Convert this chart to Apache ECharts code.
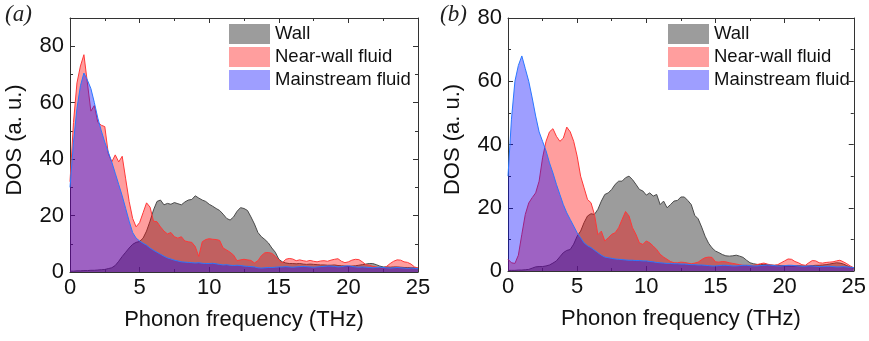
<!DOCTYPE html>
<html>
<head>
<meta charset="utf-8">
<script src="https://cdn.jsdelivr.net/npm/echarts@6/dist/echarts.min.js"></script>
<style>
  html, body { margin: 0; padding: 0; background: #fff; }
  #chart { width: 869px; height: 341px; }
</style>
</head>
<body>
<div id="chart"></div>
<script>
// Phonon frequency grid (THz)
const freq = [
  0, 0.25, 0.5, 0.75, 1, 1.25, 1.5, 1.75, 2, 2.25,
  2.5, 2.75, 3, 3.25, 3.5, 3.75, 4, 4.25, 4.5, 4.75,
  5, 5.25, 5.5, 5.75, 6, 6.25, 6.5, 6.75, 7, 7.25,
  7.5, 7.75, 8, 8.25, 8.5, 8.75, 9, 9.25, 9.5, 9.75,
  10, 10.25, 10.5, 10.75, 11, 11.25, 11.5, 11.75, 12, 12.25,
  12.5, 12.75, 13, 13.25, 13.5, 13.75, 14, 14.25, 14.5, 14.75,
  15, 15.25, 15.5, 15.75, 16, 16.25, 16.5, 16.75, 17, 17.25,
  17.5, 17.75, 18, 18.25, 18.5, 18.75, 19, 19.25, 19.5, 19.75,
  20, 20.25, 20.5, 20.75, 21, 21.25, 21.5, 21.75, 22, 22.25,
  22.5, 22.75, 23, 23.25, 23.5, 23.75, 24, 24.25, 24.5, 24.75,
  25
];

// Panel (a) densities of states
const wallA = [
  0.3, 0.3, 0.4, 0.4, 0.5, 0.5, 0.6, 0.6, 0.7, 0.8,
  0.9, 1.2, 1.5, 2.3, 3.8, 5.5, 7, 8.5, 9.8, 10.5,
  10.8, 12, 14.5, 18, 22, 25, 25.5, 23.8, 24.3, 24,
  24.6, 24.2, 23.8, 24.8, 25.5, 25.7, 27, 26.2, 25.5, 25,
  24, 23.3, 22.5, 21.8, 20.5, 19, 18.4, 19.5, 21.5, 22.8,
  22.5, 21.8, 19.5, 17, 14, 12.5, 11.5, 10.3, 8.5, 7,
  4.5, 3.6, 3.2, 3.0, 3.0, 2.9, 3.0, 2.8, 2.7, 2.8,
  2.7, 2.6, 2.5, 2.5, 2.4, 2.4, 2.5, 2.3, 2.2, 2.1,
  2.0, 2.1, 2.2, 2.4, 2.6, 2.8, 3.0, 3.0, 2.6, 2.1,
  1.8, 1.8, 1.7, 1.8, 1.8, 1.7, 1.6, 1.6, 1.5, 1.5,
  1.4
];
const nearA = [
  32, 53, 67, 73, 77, 67, 57, 59, 53, 52,
  51.5, 42, 39, 41.5, 39, 41, 33, 25, 19, 16,
  17.5, 21, 24.5, 23, 18, 17.8, 16, 14.5, 13.5, 14,
  12.5, 12, 12.5, 11, 10.7, 10.5, 9, 5.5, 10.7, 11.5,
  11.8, 11.6, 11.5, 11.2, 8.5, 7.8, 7.0, 6.0, 4.0, 4.3,
  4.5, 4.3, 4.1, 3.2, 4.0, 5.8, 6.8, 6.9, 6.6, 5.6,
  4.2, 3.2, 4.5, 4.8, 4.6, 4.0, 4.3, 4.0, 3.8, 4.1,
  3.8, 3.6, 3.9, 4.0, 3.8, 4.2, 4.5, 4.7, 3.8, 3.3,
  3.6, 4.2, 4.5, 4.4, 3.6, 2.6, 2.4, 2.0, 1.8, 1.5,
  1.4, 2.0, 3.0, 3.8, 4.3, 4.2, 3.6, 3.4, 2.8, 1.8,
  1.4
];
const mainA = [
  30, 46, 58, 66, 70.5, 68, 65, 60, 54.5, 50,
  46, 42.5, 39, 35, 31, 27, 22.5, 18, 14, 12,
  11, 10.2, 9.5, 8.5, 7.7, 7, 6.3, 5.6, 5, 4.6,
  4.2, 3.9, 3.6, 3.5, 3.4, 3.3, 3.2, 3.3, 3.1, 3.0,
  3.0, 3.1, 2.9, 2.7, 2.5, 2.6, 2.4, 2.3, 2.4, 2.3,
  2.1, 2.0, 1.9, 1.8, 1.5, 1.4, 1.5, 1.6, 1.6, 1.7,
  1.8, 1.8, 1.9, 1.8, 1.7, 1.8, 1.9, 2.0, 1.9, 1.8,
  1.7, 1.8, 1.9, 2.0, 2.1, 2.1, 2.0, 1.8, 1.9, 2.1,
  2.2, 2.0, 1.8, 1.7, 1.8, 1.7, 1.6, 1.5, 1.6, 1.7,
  1.6, 1.5, 1.4, 1.5, 1.6, 1.5, 1.4, 1.3, 1.4, 1.3,
  1.2
];

// Panel (b) densities of states
const wallB = [
  0.2, 0.2, 0.2, 0.3, 0.3, 0.4, 0.5, 0.9, 1.3, 1.4,
  1.4, 1.6, 1.9, 2.5, 3.2, 4.5, 5.8, 6.5, 6.8, 8.5,
  11, 12.6, 15.3, 17.4, 18.1, 17.9, 19.5, 22.1, 24.2, 24.7,
  25.8, 27.4, 28.4, 28.4, 29.5, 30, 28.9, 27.4, 25.8, 25.3,
  24, 24.7, 23.7, 24.2, 21, 22.1, 20, 21, 22.1, 22.3,
  23.4, 23.4, 22.3, 21, 17.6, 16.5, 13.9, 11, 8.8, 7.3,
  6.3, 5.8, 5.2, 4.8, 4.7, 4.8, 5.0, 4.7, 4.3, 3.4,
  2.6, 2.3, 2.1, 2.0, 2.1, 2.0, 1.9, 1.8, 1.8, 1.7,
  1.6, 1.6, 1.5, 1.6, 1.7, 1.6, 1.6, 1.6, 1.7, 1.8,
  1.8, 1.9, 2.0, 2.2, 2.4, 2.6, 2.5, 2.2, 1.7, 1.2,
  0.9
];
const nearB = [
  3.7, 2.6, 2.4, 5, 11.6, 17.9, 21.5, 23.2, 24.7, 28.4,
  35.8, 41, 44, 45, 42.6, 41, 42, 45.5, 44, 41,
  36.3, 30, 26.3, 22.6, 21.6, 17.9, 11.5, 12.6, 9.5, 10.5,
  11.6, 12.1, 13.7, 16.3, 18.8, 17.4, 13.7, 11.6, 8.9, 8.4,
  9.5, 8.9, 7.9, 6.8, 5.3, 4.4, 3.7, 3.0, 2.6, 2.6,
  2.8, 2.7, 2.5, 2.3, 2.5, 2.8, 3.6, 4.2, 4.4, 4.3,
  2.9, 2.8, 3.0, 2.9, 2.6, 2.4, 2.2, 2.0, 1.8, 1.8,
  1.8, 1.8, 2.0, 2.3, 2.5, 2.2, 1.9, 1.8, 2.0, 2.6,
  3.2, 3.8, 3.7, 3.0, 2.6, 2.0, 1.8, 2.6, 3.3, 3.2,
  2.6, 2.5, 2.7, 2.8, 2.9, 3.2, 3.4, 2.9, 2.3, 1.6,
  1.0
];
const mainB = [
  30, 48, 60, 65, 68, 64, 60, 54.7, 49, 44,
  41, 38, 34.2, 31, 27.4, 24.2, 21, 18.4, 16.3, 14.2,
  12.1, 10.5, 8.9, 8.0, 7.4, 6.6, 5.8, 5.0, 4.4, 4.2,
  4.0, 3.8, 3.7, 3.6, 3.5, 3.4, 3.4, 3.3, 3.3, 3.2,
  3.2, 3.0, 2.9, 2.7, 2.6, 2.5, 2.4, 2.4, 2.3, 2.3,
  2.2, 2.2, 2.1, 2.0, 2.0, 1.9, 1.9, 1.8, 1.7, 1.6,
  1.6, 1.7, 1.8, 1.8, 1.7, 1.6, 1.6, 1.7, 1.8, 1.8,
  1.7, 1.6, 1.6, 1.7, 1.8, 1.9, 1.8, 1.7, 1.6, 1.6,
  1.7, 1.8, 1.8, 1.7, 1.6, 1.5, 1.5, 1.6, 1.6, 1.5,
  1.4, 1.4, 1.5, 1.5, 1.4, 1.3, 1.3, 1.4, 1.3, 1.2,
  1.1
];

const seriesNames = ['Wall', 'Near-wall fluid', 'Mainstream fluid'];
const panelLabels = ['(a)', '(b)'];
const xTicks = [0, 5, 10, 15, 20, 25];
const yTicks = [0, 20, 40, 60, 80];

const FONT = '"Liberation Sans", Arial, Helvetica, sans-serif';
const fills = ['rgba(85,85,85,0.58)', 'rgba(255,0,0,0.38)', 'rgba(0,0,255,0.38)'];
const strokes = ['#4a4a4a', '#ff3838', '#2a78ff'];
const axisColor = '#333';

function pairs(vals) {
  return freq.map((f, i) => [f, vals[i]]);
}

function xAxisFor(grid, top) {
  return {
    type: 'value', gridIndex: grid, position: top ? 'top' : 'bottom',
    min: xTicks[0], max: xTicks[xTicks.length - 1], interval: 5,
    axisLine: { show: true, onZero: false, lineStyle: { color: axisColor, width: 1 } },
    axisTick: { show: true, inside: true, length: 5, lineStyle: { color: axisColor } },
    minorTick: { show: true, splitNumber: 2, length: 3, lineStyle: { color: axisColor } },
    splitLine: { show: false },
    axisLabel: top ? { show: false } : { fontSize: 22, margin: 5, color: '#111', fontFamily: FONT },
    name: top ? '' : 'Phonon frequency (THz)',
    nameLocation: 'middle', nameGap: 37,
    nameTextStyle: { fontSize: 22, color: '#111', fontFamily: FONT }
  };
}

function yAxisFor(grid, right, maxV) {
  return {
    type: 'value', gridIndex: grid, position: right ? 'right' : 'left',
    min: 0, max: maxV, interval: 20,
    axisLine: { show: true, onZero: false, lineStyle: { color: axisColor, width: 1 } },
    axisTick: { show: true, inside: true, length: 5, lineStyle: { color: axisColor } },
    minorTick: { show: true, splitNumber: 2, length: 3, lineStyle: { color: axisColor } },
    splitLine: { show: false },
    axisLabel: right ? { show: false } : {
      fontSize: 22, margin: 6, color: '#111', fontFamily: FONT, showMaxLabel: maxV === 80,
      formatter: v => (yTicks.indexOf(v) >= 0 ? String(v) : '')
    },
    name: right ? '' : 'DOS (a. u.)',
    nameLocation: 'middle', nameGap: 44,
    nameTextStyle: { fontSize: 22, color: '#111', fontFamily: FONT, padding: [0, 0, 0, 10] }
  };
}

function panelSeries(axisIdx, data) {
  return data.map((vals, k) => ({
    name: seriesNames[k], type: 'line',
    xAxisIndex: axisIdx, yAxisIndex: axisIdx,
    data: pairs(vals), showSymbol: false, symbol: 'none',
    lineStyle: { color: strokes[k], width: 1 },
    itemStyle: { color: strokes[k] },
    areaStyle: { color: fills[k], opacity: 1, origin: 'start' },
    z: 2 + k
  }));
}

function legendFor(left) {
  return {
    left: left, top: 24, padding: 0, orient: 'vertical', icon: 'rect',
    itemWidth: 41, itemHeight: 20, itemGap: 3, selectedMode: false,
    textStyle: { fontSize: 18.5, color: '#111', fontFamily: FONT },
    data: seriesNames.map((n, k) => ({ name: n, itemStyle: { color: fills[k], borderWidth: 0, opacity: 1 } }))
  };
}

const chart = echarts.init(document.getElementById('chart'), null, { renderer: 'canvas' });
chart.setOption({
  animation: false,
  backgroundColor: '#fff',
  grid: [
    { left: 70, top: 18, width: 348, height: 254 },
    { left: 508, top: 18, width: 349, height: 253 }
  ],
  xAxis: [xAxisFor(0, false), xAxisFor(0, true), xAxisFor(1, false), xAxisFor(1, true)],
  yAxis: [yAxisFor(0, false, 90), yAxisFor(0, true, 90), yAxisFor(1, false, 80), yAxisFor(1, true, 80)],
  legend: [legendFor(229), legendFor(668)],
  graphic: [
    { type: 'text', left: 5, top: 3, style: { text: panelLabels[0], font: 'italic 23px "Liberation Serif", "Times New Roman", serif', fill: '#222' } },
    { type: 'text', left: 440, top: 3, style: { text: panelLabels[1], font: 'italic 23px "Liberation Serif", "Times New Roman", serif', fill: '#222' } }
  ],
  series: [
    ...panelSeries(0, [wallA, nearA, mainA]),
    ...panelSeries(2, [wallB, nearB, mainB])
  ]
});
</script>
</body>
</html>
